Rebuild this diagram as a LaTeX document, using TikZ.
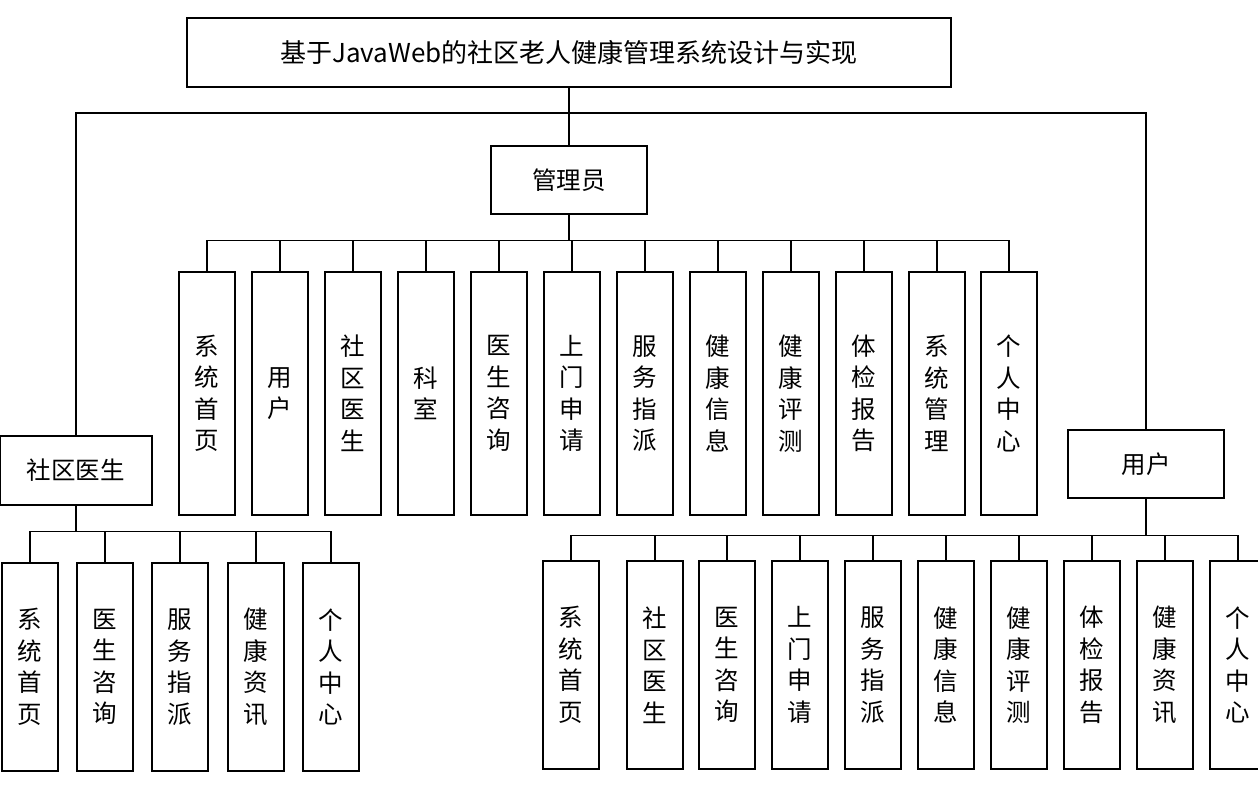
\documentclass[tikz,border=0pt]{standalone}
\usepackage{fontspec}
\setmainfont{Noto Sans CJK SC}
\begin{document}
\begin{tikzpicture}[x=1pt,y=-1pt,
  box/.style={draw,line width=1.2pt,inner sep=0pt,font=\fontsize{24.5}{31.5}\selectfont},
  vbox/.style={box,minimum width=56pt,minimum height=243pt,align=center},
  vboxs/.style={box,minimum width=56pt,minimum height=208pt,align=center},
  ln/.style={line width=1.6pt}]
\useasboundingbox (0,0) rectangle (1258,804);
\node[box,minimum width=764pt,minimum height=69pt,font=\fontsize{26}{30}\selectfont] (title) at (569,52.5) {基于JavaWeb的社区老人健康管理系统设计与实现};
\node[box,minimum width=156pt,minimum height=68pt] (admin) at (569,180) {管理员};
\node[box,minimum width=152pt,minimum height=69pt] (doc) at (76,470.5) {社区医生};
\node[box,minimum width=156pt,minimum height=68pt] (user) at (1146,464) {用户};
\coordinate (j) at (569,113);
\draw[ln] (title.south) -- (j);
\draw[ln] (j) -- (admin.north);
\draw[ln] (j) -| (doc.north);
\draw[ln] (j) -| (user.north);
% admin children
\foreach \n/\x/\t in {1/207/系\\统\\首\\页,2/280/用\\户,3/353/社\\区\\医\\生,4/426/科\\室,5/499/医\\生\\咨\\询,6/572/上\\门\\申\\请,7/645/服\\务\\指\\派,8/718/健\\康\\信\\息,9/791/健\\康\\评\\测,10/864/体\\检\\报\\告,11/937/系\\统\\管\\理,12/1009/个\\人\\中\\心}{
  \node[vbox] (a\n) at (\x,393.5) {\t};
  \draw[ln] (admin.south) -- ++(0,26) -| (a\n.north);
}
% doctor children
\foreach \n/\x/\t in {1/30/系\\统\\首\\页,2/105/医\\生\\咨\\询,3/180/服\\务\\指\\派,4/256/健\\康\\资\\讯,5/331/个\\人\\中\\心}{
  \node[vboxs] (d\n) at (\x,667) {\t};
  \draw[ln] (doc.south) -- ++(0,26) -| (d\n.north);
}
% user children
\foreach \n/\x/\t in {1/571/系\\统\\首\\页,2/655/社\\区\\医\\生,3/727/医\\生\\咨\\询,4/800/上\\门\\申\\请,5/873/服\\务\\指\\派,6/946/健\\康\\信\\息,7/1019/健\\康\\评\\测,8/1092/体\\检\\报\\告,9/1165/健\\康\\资\\讯,10/1238/个\\人\\中\\心}{
  \node[vboxs] (u\n) at (\x,665) {\t};
  \draw[ln] (user.south) -- ++(0,37) -| (u\n.north);
}
\end{tikzpicture}
\end{document}
